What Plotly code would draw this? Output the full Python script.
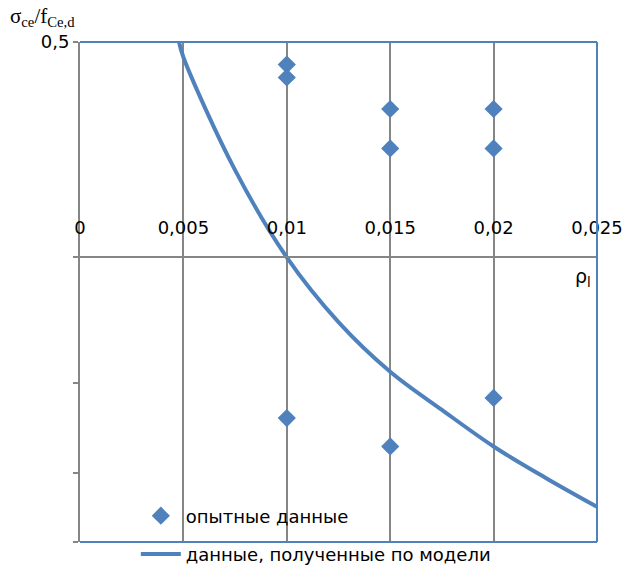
import plotly.graph_objects as go

# experimental data
rho_exp = [0.01, 0.01, 0.015, 0.015, 0.02, 0.02, 0.01, 0.015, 0.02]
sig_exp = [0.465, 0.446, 0.403, 0.355, 0.403, 0.355, 0.149, 0.136, 0.159]

# model curve
rho_model = [0.00479, 0.005, 0.0075, 0.01, 0.0125, 0.015, 0.0175, 0.02, 0.0225, 0.025]
sig_model = [0.5, 0.476, 0.331, 0.25, 0.203, 0.173, 0.153, 0.136, 0.123, 0.112]

# ticks
x_tickvals = [0, 0.005, 0.01, 0.015, 0.02, 0.025]
x_ticktext = ["0", "0,005", "0,01", "0,015", "0,02", "0,025"]
y_tickvals = [0.5]
y_ticktext = ["0,5"]
y_unlabeled_ticks = [0.1, 0.125, 1 / 6, 0.25]

BLUE = "#4f81bd"
GRAY = "#868686"
FONT = "DejaVu Sans"

fig = go.Figure()
fig.add_trace(go.Scatter(
    x=rho_exp, y=sig_exp, mode="markers", name="опытные данные",
    legendgroup="a",
    marker=dict(symbol="diamond", size=14, color=BLUE, line=dict(width=0)),
))
fig.add_trace(go.Scatter(
    x=rho_model, y=sig_model, mode="lines", name="данные, полученные по модели",
    legendgroup="b",
    line=dict(color=BLUE, width=4, shape="spline"),
))

fig.update_layout(
    width=623, height=566,
    margin=dict(l=80, r=26, t=42, b=24, autoexpand=False),
    paper_bgcolor="white", plot_bgcolor="white",
    font=dict(family=FONT, size=18, color="black"),
    showlegend=True,
    legend=dict(
        x=0.108, y=0.089, xanchor="left", yanchor="top",
        bgcolor="rgba(0,0,0,0)", traceorder="grouped", tracegroupgap=12,
        itemwidth=40,
        font=dict(family=FONT, size=18, color="black"),
    ),
    xaxis=dict(
        range=[0, 0.025], tickvals=x_tickvals, ticktext=x_ticktext,
        showgrid=True, gridcolor=GRAY, gridwidth=2,
        showline=True, linecolor=GRAY, linewidth=2,
        zeroline=False, ticks="", side="top",
        anchor="free", position=0.57, automargin=False,
        ticklabelstandoff=15,
        tickfont=dict(family=FONT, size=18, color="black"),
    ),
    yaxis=dict(
        type="log", range=[-1, 0.69897 - 1], domain=[0, 1],
        tickvals=y_tickvals, ticktext=y_ticktext, automargin=False,
        showgrid=False, zeroline=False,
        showline=True, linecolor=GRAY, linewidth=2,
        ticks="outside", ticklen=5, tickwidth=2, tickcolor=GRAY,
        minor=dict(tickmode="array", tickvals=y_unlabeled_ticks, ticks="outside",
                   ticklen=5, tickwidth=2, tickcolor=GRAY, showgrid=False),
        tickfont=dict(family=FONT, size=18, color="black"),
    ),
    shapes=[
        dict(type="line", xref="paper", yref="paper", x0=0, x1=1, y0=1, y1=1,
             line=dict(color=BLUE, width=2), layer="above"),
        dict(type="line", xref="paper", yref="paper", x0=1, x1=1, y0=0, y1=1,
             line=dict(color=BLUE, width=2), layer="above"),
        dict(type="line", xref="paper", yref="paper", x0=0, x1=1, y0=0, y1=0,
             line=dict(color=BLUE, width=2), layer="above"),
    ],
    annotations=[
        dict(text="σ<sub>ce</sub>/f<sub>Ce,d</sub>", xref="paper", yref="paper",
             x=-0.14, y=1.05, xanchor="left", yanchor="middle", showarrow=False,
             font=dict(family="Liberation Serif", size=21, color="black")),
        dict(text="ρ<sub>l</sub>", xref="paper", yref="paper",
             x=0.973, y=0.53, xanchor="center", yanchor="middle", showarrow=False,
             font=dict(family=FONT, size=19, color="black")),
    ],
)

fig.write_html("out.html", config={"displayModeBar": False},
               post_script="document.body.style.margin='0px';")
